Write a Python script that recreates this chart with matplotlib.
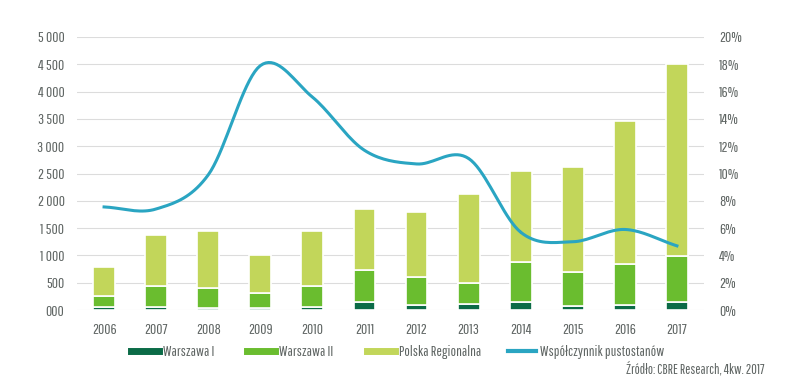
import numpy as np
import matplotlib
matplotlib.use("Agg")
import matplotlib.pyplot as plt
from matplotlib.lines import Line2D

plt.rcParams['font.family'] = ['Pathway Gothic One', 'Sofia Sans Extra Condensed', 'DejaVu Sans']

# dane
lata = ['2006', '2007', '2008', '2009', '2010', '2011', '2012', '2013', '2014', '2015', '2016', '2017']
warszawa1 = [60, 55, 40, 40, 60, 146, 86, 110, 153, 73, 98, 153]
warszawa2 = [200, 385, 370, 277, 380, 587, 525, 378, 732, 617, 750, 842]
polska_reg = [520, 934, 1043, 690, 1013, 1117, 1179, 1642, 1666, 1935, 2620, 3505]
pustostany = [7.55, 7.4, 9.9, 17.9, 15.6, 11.7, 10.7, 11.1, 5.7, 5.0, 5.9, 4.7]

y_ticks = [0, 500, 1000, 1500, 2000, 2500, 3000, 3500, 4000, 4500, 5000]
y_labels = ['000', '500', '1 000', '1 500', '2 000', '2 500', '3 000', '3 500', '4 000', '4 500', '5 000']
y2_ticks = [0, 2, 4, 6, 8, 10, 12, 14, 16, 18, 20]
y2_labels = ['0%', '2%', '4%', '6%', '8%', '10%', '12%', '14%', '16%', '18%', '20%']
serie = ['Warszawa I', 'Warszawa II', 'Polska Regionalna', 'Współczynnik pustostanów']

c_w1 = '#0b6b47'
c_w2 = '#6abd2f'
c_pr = '#c2d65a'
c_line = '#2aa5c2'
c_txt = '#5f6563'

fig = plt.figure(figsize=(8, 3.77), dpi=100)
ax = fig.add_axes([77/800, 1-310/377, 627/800, 273/377])
x = np.arange(len(lata))
w = 0.42

ax.bar(x, warszawa1, w, color=c_w1, edgecolor='white', linewidth=1.2, zorder=3)
ax.bar(x, warszawa2, w, bottom=warszawa1, color=c_w2, edgecolor='white', linewidth=1.2, zorder=3)
bot = np.array(warszawa1) + np.array(warszawa2)
ax.bar(x, polska_reg, w, bottom=bot, color=c_pr, edgecolor='white', linewidth=1.2, zorder=3)

ax.set_xlim(-0.52, 11.52)
ax.set_ylim(0, 5000)
ax.set_yticks(y_ticks)
ax.set_yticklabels(y_labels)
ax.set_xticks(x)
ax.set_xticklabels(lata)
ax.grid(axis='y', color='#dcdcdc', linewidth=0.8, zorder=0)
for s in ax.spines.values():
    s.set_visible(False)
ax.tick_params(length=0, colors=c_txt, labelsize=11)
ax.tick_params(axis='y', pad=9)
ax.tick_params(axis='x', pad=9)

# wygladzona linia (Catmull-Rom)
ax2 = ax.twinx()
p = np.array(pustostany)
pts = np.column_stack([x, p])
ext = np.vstack([2*pts[0]-pts[1], pts, 2*pts[-1]-pts[-2]])
xs, ys = [], []
t = np.linspace(0, 1, 20)
for i in range(1, len(ext)-2):
    p0, p1, p2, p3 = ext[i-1], ext[i], ext[i+1], ext[i+2]
    seg = 0.5*((2*p1)[None, :] + np.outer(t, -p0+p2) + np.outer(t**2, 2*p0-5*p1+4*p2-p3) + np.outer(t**3, -p0+3*p1-3*p2+p3))
    xs.extend(seg[:, 0]); ys.extend(seg[:, 1])
ax2.plot(xs, ys, color=c_line, linewidth=2.2, zorder=4)
ax2.set_ylim(0, 20)
ax2.set_yticks(y2_ticks)
ax2.set_yticklabels(y2_labels)
for s in ax2.spines.values():
    s.set_visible(False)
ax2.tick_params(length=0, colors=c_txt, labelsize=11, pad=11)

# legenda - osobno kazdy element
uchwyty = [Line2D([], [], color=c_w1, lw=5), Line2D([], [], color=c_w2, lw=5),
           Line2D([], [], color=c_pr, lw=5), Line2D([], [], color=c_line, lw=3)]
poz_x = [131, 247, 367, 508]
for h, lab, px in zip(uchwyty, serie, poz_x):
    fig.legend([h], [lab], loc='center left', bbox_to_anchor=(px/800, 1-352/377),
               frameon=False, fontsize=10.5, labelcolor=c_txt, handlelength=1.9,
               handletextpad=0.3, borderaxespad=0, borderpad=0)

fig.text(765/800, 0.003, 'Źródło: CBRE Research, 4kw. 2017', fontsize=10, color=c_txt, ha='right', va='bottom')

fig.savefig('out.png', dpi=100, facecolor='white')
